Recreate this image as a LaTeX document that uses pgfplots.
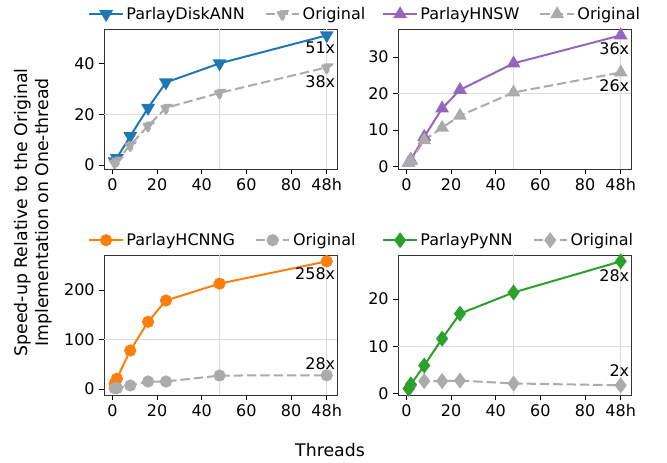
\documentclass[border=0pt]{standalone}
\usepackage{fontspec}
\setmainfont{DejaVu Sans}
\usepackage{pgfplots}
\pgfplotsset{compat=1.18}

\definecolor{cblue}{HTML}{1F77B4}
\definecolor{cpurple}{HTML}{9467BD}
\definecolor{corange}{HTML}{FF7F0E}
\definecolor{cgreen}{HTML}{2CA02C}
\definecolor{cgray}{HTML}{ABABAB}
\definecolor{cgrid}{HTML}{DCDCDC}

\pgfplotsset{
  panel/.style={
    scale only axis, width=175pt, height=105pt,
    xmin=-3.75, xmax=100.75,
    xtick={0,20,40,60,80,96},
    xticklabels={0,20,40,60,80,48h},
    tick pos=left, tick align=outside,
    major tick length=3.5pt,
    tick style={black, line width=0.6pt},
    axis line style={line width=0.6pt, black!80},
    /pgf/number format/assume math mode=true,
    ticklabel style={font=\fontsize{12}{14}\selectfont},
    extra x ticks={48,96}, extra x tick labels={},
    extra x tick style={grid=major, major tick length=0pt},
    extra y tick labels={},
    extra y tick style={grid=major, major tick length=0pt},
    grid style={cgrid, line width=0.8pt},
    legend style={at={(-0.085,1.015)}, anchor=south west, draw=none, fill=none,
      legend columns=-1, font=\fontsize{12}{14}\selectfont,
      nodes={inner xsep=2pt},
      /tikz/every even column/.append style={column sep=13pt}},
    legend image code/.code={%
      \draw[mark repeat=2, mark phase=2] plot coordinates {(0pt,0pt) (12.5pt,0pt) (25pt,0pt)};},
  },
  parlay/.style={line width=1.5pt, mark options={solid}},
  orig/.style={cgray, line width=1.5pt, dash pattern=on 7pt off 3pt, mark options={solid, cgray}},
}

\begin{document}
\begin{tikzpicture}
\path[use as bounding box] (0,0) rectangle (500.25pt,347.25pt);

% DiskANN
\begin{axis}[panel, at={(78pt,220.5pt)}, anchor=south west,
  ymin=-1.5, ymax=53.5, ytick={0,20,40}, extra y ticks={20}]
\addplot[parlay, cblue, mark=triangle*, mark size=4.5pt, mark options={rotate=180, cblue}]
  coordinates {(1,1.5) (2,2.8) (8,11.4) (16,22.5) (24,32.5) (48,40) (96,51)};
\addplot[orig, mark=triangle*, mark size=4.5pt, mark options={rotate=180}]
  coordinates {(1,1) (2,1.8) (8,7.8) (16,15.5) (24,22.5) (48,28.4) (96,38.4)};
\legend{ParlayDiskANN, Original}
\node[anchor=north east, font=\fontsize{12}{14}\selectfont, inner sep=1pt] at (axis cs:100.5,49) {51x};
\node[anchor=north east, font=\fontsize{12}{14}\selectfont, inner sep=1pt] at (axis cs:100.5,36) {38x};
\end{axis}

% HNSW
\begin{axis}[panel, at={(298.5pt,220.5pt)}, anchor=south west,
  ymin=-0.75, ymax=37.75, ytick={0,10,20,30}, extra y ticks={20}]
\addplot[parlay, cpurple, mark=triangle*, mark size=4.5pt, mark options={cpurple}]
  coordinates {(1,1) (2,1.8) (8,8.1) (16,15.9) (24,21) (48,28.3) (96,36)};
\addplot[orig, mark=triangle*, mark size=4.5pt]
  coordinates {(1,1) (2,1.5) (8,7.2) (16,10.6) (24,13.9) (48,20.3) (96,25.8)};
\legend{ParlayHNSW, Original}
\node[anchor=north east, font=\fontsize{12}{14}\selectfont, inner sep=1pt] at (axis cs:100.5,34.4) {36x};
\node[anchor=north east, font=\fontsize{12}{14}\selectfont, inner sep=1pt] at (axis cs:100.5,24.2) {26x};
\end{axis}

% HCNNG
\begin{axis}[panel, at={(78pt,51pt)}, anchor=south west,
  ymin=-11.85, ymax=270.85, ytick={0,100,200}, extra y ticks={100}]
\addplot[parlay, corange, mark=*, mark size=3.8pt, mark options={corange}]
  coordinates {(1,11) (2,21) (8,78) (16,136) (24,179) (48,213) (96,258)};
\addplot[orig, mark=*, mark size=3.8pt]
  coordinates {(1,2) (2,2) (8,7.4) (16,15.4) (24,15.4) (48,27.4) (96,28)};
\legend{ParlayHCNNG, Original}
\node[anchor=north east, font=\fontsize{12}{14}\selectfont, inner sep=1pt] at (axis cs:100.5,249) {258x};
\node[anchor=south east, font=\fontsize{12}{14}\selectfont, inner sep=1pt] at (axis cs:100.5,36) {28x};
\end{axis}

% PyNN
\begin{axis}[panel, at={(298.5pt,51pt)}, anchor=south west,
  ymin=-0.35, ymax=29.35, ytick={0,10,20}, extra y ticks={10}]
\addlegendimage{parlay, cgreen, mark=diamond*, mark size=4.8pt, mark options={cgreen}}
\addlegendentry{ParlayPyNN}
\addlegendimage{orig, mark=diamond*, mark size=4.8pt}
\addlegendentry{Original}
\addplot[orig, mark=diamond*, mark size=4.8pt, forget plot]
  coordinates {(1,1) (2,1.5) (8,2.6) (16,2.6) (24,2.7) (48,2.1) (96,1.7)};
\addplot[parlay, cgreen, mark=diamond*, mark size=4.8pt, mark options={cgreen}, forget plot]
  coordinates {(1,1) (2,1.9) (8,5.9) (16,11.6) (24,16.9) (48,21.4) (96,28)};
\node[anchor=north east, font=\fontsize{12}{14}\selectfont, inner sep=1pt] at (axis cs:100.5,26.6) {28x};
\node[anchor=south east, font=\fontsize{12}{14}\selectfont, inner sep=1pt] at (axis cs:100.5,3.2) {2x};
\end{axis}

\node[rotate=90, align=center, font=\fontsize{13}{16}\selectfont] at (25pt,188pt)
  {Speed-up Relative to the Original\\Implementation on One-thread};
\node[font=\fontsize{13}{16}\selectfont] at (247.5pt,9.5pt) {Threads};
\end{tikzpicture}
\end{document}
